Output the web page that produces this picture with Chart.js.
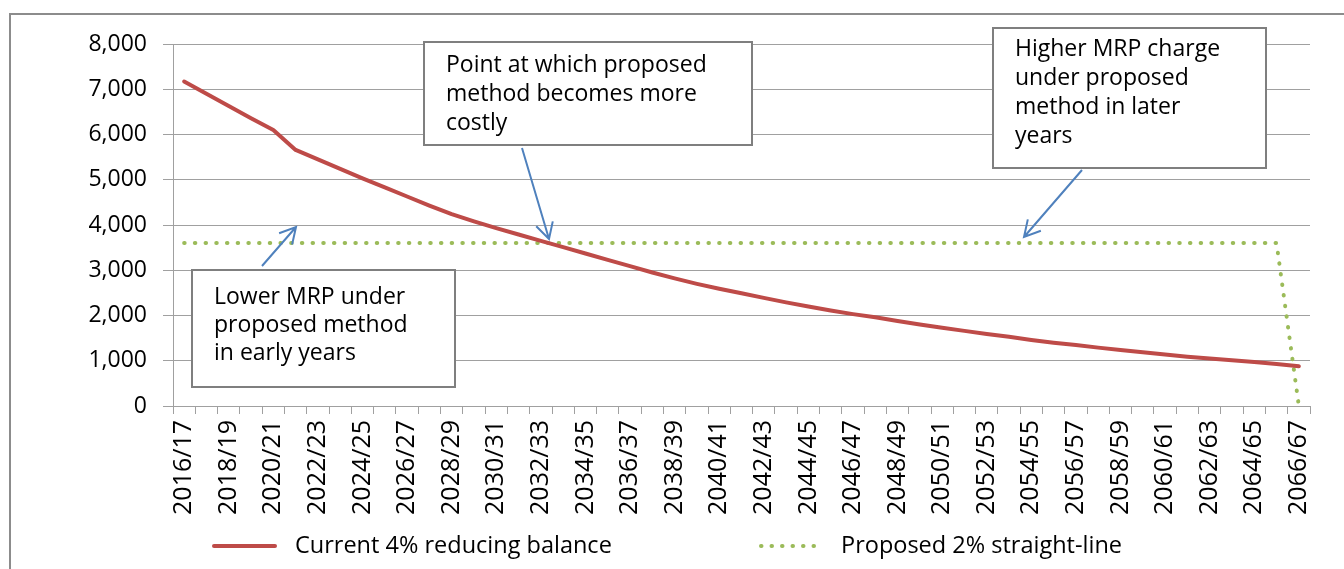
<!DOCTYPE html>
<html>
<head>
<meta charset="utf-8">
<script src="https://cdn.jsdelivr.net/npm/chart.js@4/dist/chart.umd.min.js"></script>
<style>
  html, body { margin: 0; padding: 0; background: #fff; }
  #wrap { width: 1344px; height: 569px; position: relative; }
</style>
</head>
<body>
<div id="wrap"><canvas id="myChart" width="1344" height="569"></canvas></div>
<script>
const years = [
  "2016/17", "2017/18", "2018/19", "2019/20", "2020/21", "2021/22", "2022/23", "2023/24",
  "2024/25", "2025/26", "2026/27", "2027/28", "2028/29", "2029/30", "2030/31", "2031/32",
  "2032/33", "2033/34", "2034/35", "2035/36", "2036/37", "2037/38", "2038/39", "2039/40",
  "2040/41", "2041/42", "2042/43", "2043/44", "2044/45", "2045/46", "2046/47", "2047/48",
  "2048/49", "2049/50", "2050/51", "2051/52", "2052/53", "2053/54", "2054/55", "2055/56",
  "2056/57", "2057/58", "2058/59", "2059/60", "2060/61", "2061/62", "2062/63", "2063/64",
  "2064/65", "2065/66", "2066/67"
];

// Current 4% reducing balance
const current = [
  7170, 6900, 6630, 6360, 6100, 5660, 5450, 5240, 5030, 4830,
  4630, 4430, 4240, 4080, 3930, 3790, 3650, 3510, 3370, 3230,
  3090, 2950, 2820, 2700, 2590, 2490, 2390, 2290, 2200, 2110,
  2030, 1960, 1880, 1800, 1730, 1660, 1590, 1530, 1460, 1400,
  1350, 1290, 1240, 1190, 1140, 1090, 1050, 1010, 970, 930,
  880
];

// Proposed 2% straight-line
const proposed = [
  3600, 3600, 3600, 3600, 3600, 3600, 3600, 3600, 3600, 3600,
  3600, 3600, 3600, 3600, 3600, 3600, 3600, 3600, 3600, 3600,
  3600, 3600, 3600, 3600, 3600, 3600, 3600, 3600, 3600, 3600,
  3600, 3600, 3600, 3600, 3600, 3600, 3600, 3600, 3600, 3600,
  3600, 3600, 3600, 3600, 3600, 3600, 3600, 3600, 3600, 3600,
  0
];

const yTicks = [0, 1000, 2000, 3000, 4000, 5000, 6000, 7000, 8000];

const FONT = "'Open Sans', sans-serif";
const RED = "#be4b48";
const GREEN = "#9bbb59";
const BLUE = "#4f81bd";
const GRID = "#a0a0a0";

const boxes = [
  { x: 424, y: 42, w: 328, h: 103, lines: ["Point at which proposed", "method becomes more", "costly"], ty: 65, lh: 29 },
  { x: 993, y: 28, w: 273, h: 140, lines: ["Higher MRP charge", "under proposed", "method in later", "years"], ty: 49, lh: 29.3 },
  { x: 192, y: 270, w: 263, h: 117, lines: ["Lower MRP under", "proposed method", "in early years"], ty: 297, lh: 28 }
];

const arrows = [
  { from: [522, 148], to: [549, 239] },
  { from: [1082, 170], to: [1024, 237] },
  { from: [262, 266], to: [296, 227] }
];

function drawArrow(ctx, a) {
  const [x1, y1] = a.from, [x2, y2] = a.to;
  const ang = Math.atan2(y2 - y1, x2 - x1);
  const len = 18, spread = 0.5;
  ctx.beginPath();
  ctx.moveTo(x1, y1);
  ctx.lineTo(x2, y2);
  ctx.moveTo(x2 - len * Math.cos(ang - spread), y2 - len * Math.sin(ang - spread));
  ctx.lineTo(x2, y2);
  ctx.lineTo(x2 - len * Math.cos(ang + spread), y2 - len * Math.sin(ang + spread));
  ctx.stroke();
}

const extras = {
  id: "extras",
  beforeDraw(chart) {
    const ctx = chart.ctx;
    ctx.save();
    ctx.fillStyle = "#fff";
    ctx.fillRect(0, 0, chart.width, chart.height);
    // outer chart frame
    ctx.strokeStyle = "#8c8c8c";
    ctx.lineWidth = 2;
    ctx.beginPath();
    ctx.moveTo(10, chart.height + 2);
    ctx.lineTo(10, 14);
    ctx.lineTo(chart.width + 2, 14);
    ctx.stroke();
    ctx.restore();
  },
  afterDraw(chart) {
    const ctx = chart.ctx;
    ctx.save();
    // callout boxes
    boxes.forEach(b => {
      ctx.fillStyle = "#fff";
      ctx.fillRect(b.x, b.y, b.w, b.h);
      ctx.strokeStyle = "#7f7f7f";
      ctx.lineWidth = 2;
      ctx.strokeRect(b.x, b.y, b.w, b.h);
      ctx.fillStyle = "#000";
      ctx.font = "23px " + FONT;
      ctx.textBaseline = "middle";
      ctx.textAlign = "left";
      b.lines.forEach((t, i) => ctx.fillText(t, b.x + 22, b.ty + i * b.lh));
    });
    // arrows
    ctx.strokeStyle = BLUE;
    ctx.lineWidth = 2;
    arrows.forEach(a => drawArrow(ctx, a));

    // legend
    const ly = 546;
    ctx.lineWidth = 4;
    ctx.strokeStyle = RED;
    ctx.lineCap = "round";
    ctx.beginPath();
    ctx.moveTo(214, ly);
    ctx.lineTo(275, ly);
    ctx.stroke();
    ctx.strokeStyle = GREEN;
    ctx.setLineDash([0.5, 10]);
    ctx.beginPath();
    ctx.moveTo(761, ly);
    ctx.lineTo(823, ly);
    ctx.stroke();
    ctx.setLineDash([]);
    ctx.fillStyle = "#000";
    ctx.font = "23.5px " + FONT;
    ctx.textBaseline = "middle";
    ctx.fillText(chart.data.datasets[0].label, 295, ly);
    ctx.fillText(chart.data.datasets[1].label, 841, ly);
    ctx.restore();
  }
};

new Chart(document.getElementById("myChart"), {
  type: "line",
  data: {
    labels: years,
    datasets: [
      {
        label: "Current 4% reducing balance",
        data: current,
        borderColor: RED,
        borderWidth: 4,
        pointRadius: 0,
        tension: 0,
        borderJoinStyle: "round",
        borderCapStyle: "round"
      },
      {
        label: "Proposed 2% straight-line",
        data: proposed,
        borderColor: GREEN,
        borderWidth: 4,
        borderDash: [0.5, 10.2],
        borderCapStyle: "round",
        pointRadius: 0,
        tension: 0
      }
    ]
  },
  plugins: [extras],
  options: {
    responsive: false,
    animation: false,
    layout: { padding: { left: 0, right: 34, top: 44, bottom: 0 } },
    plugins: {
      legend: { display: false },
      tooltip: { enabled: false }
    },
    scales: {
      x: {
        offset: true,
        afterFit: s => { s.height = 163; },
        grid: { offset: true, drawOnChartArea: false, tickLength: 8, color: GRID, lineWidth: 1 },
        border: { color: GRID, width: 1 },
        ticks: {
          autoSkip: false,
          maxRotation: 90,
          minRotation: 90,
          padding: 6,
          color: "#000",
          font: { family: FONT, size: 25 },
          callback: (v, i) => (i % 2 === 0 ? years[i] : "")
        }
      },
      y: {
        min: 0,
        max: 8000,
        afterFit: s => { s.width = 173; },
        afterBuildTicks: s => { s.ticks = yTicks.map(v => ({ value: v })); },
        grid: { color: GRID, lineWidth: 1, tickLength: 10 },
        border: { color: GRID, width: 1 },
        ticks: {
          padding: 16,
          color: "#000",
          font: { family: FONT, size: 23 },
          callback: v => v.toLocaleString("en-US")
        }
      }
    }
  }
});
</script>
</body>
</html>
